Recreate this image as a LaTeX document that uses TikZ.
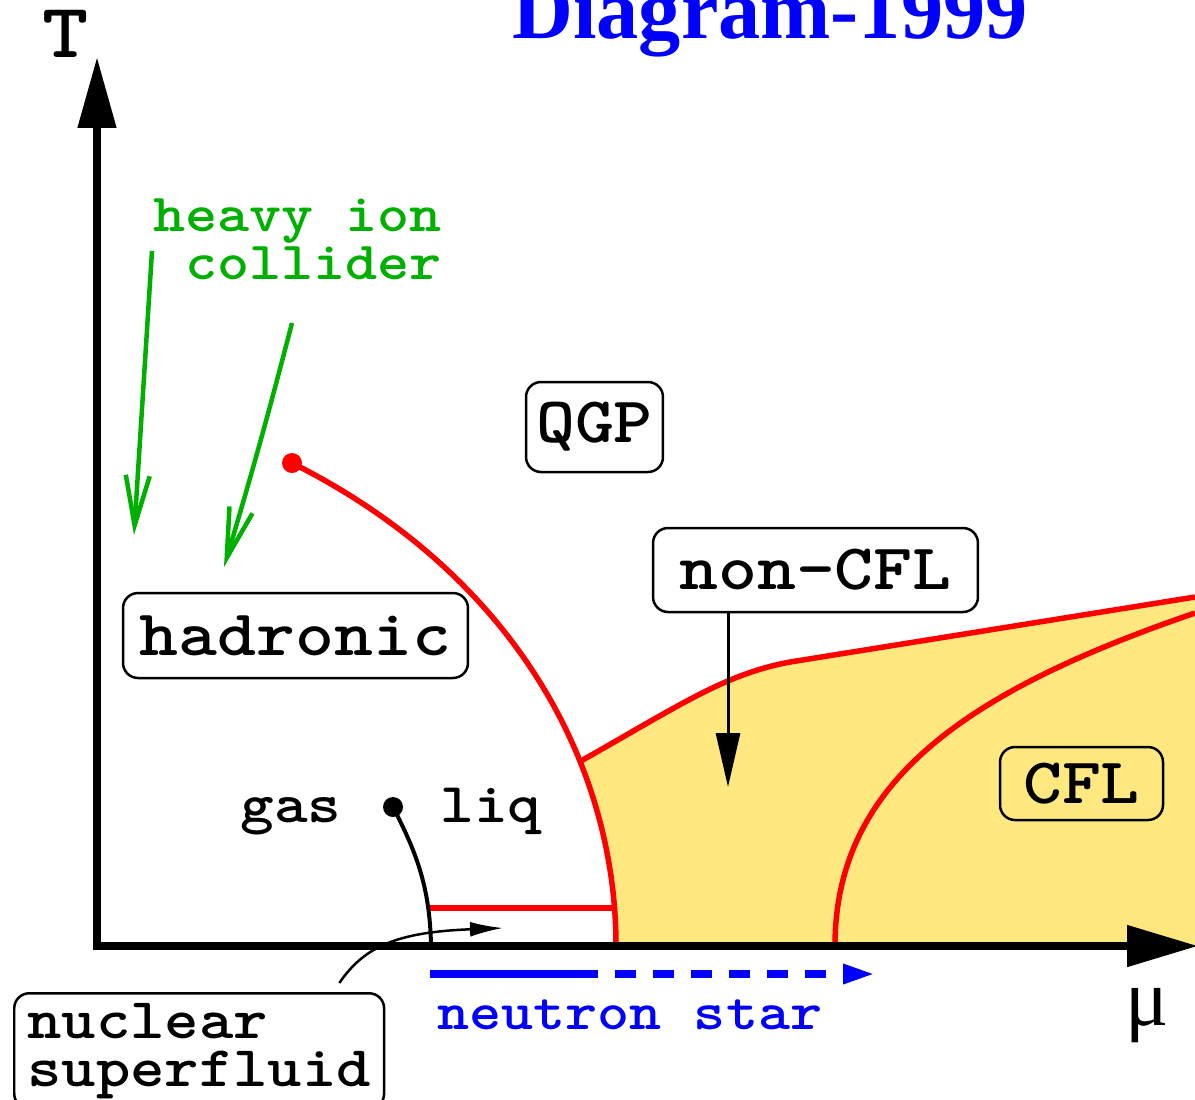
\documentclass[tikz,border=0pt]{standalone}
\usepackage{fontspec}
\usetikzlibrary{arrows.meta, positioning, calc}
\newfontfamily\diagtt{lmmonolt10-bold.otf}[FakeStretch=1.14]
\newfontfamily\titlefont{Liberation Serif}
\definecolor{cflyellow}{RGB}{255,232,128}
\definecolor{hicgreen}{RGB}{0,176,0}

\begin{document}
\begin{tikzpicture}[
    x=0.02cm, y=-0.02cm,
    phasebox/.style={draw, rounded corners=0.3cm, line width=0.05cm, inner sep=0pt, align=center, font=\diagtt\fontsize{37pt}{37pt}\selectfont},
    axisline/.style={line width=0.16cm, line join=miter},
    redline/.style={red, line width=0.11cm},
    hicarrow/.style={hicgreen, line width=0.09cm, -{Straight Barb[length=1cm, width=0.48cm]}},
    lab/.style={inner sep=0pt, font=\diagtt\fontsize{32pt}{32pt}\selectfont}
]
    \useasboundingbox (0,0) rectangle (1195,1099);

    % Title
    \node[anchor=base, text=blue, font=\titlefont\bfseries\fontsize{48pt}{48pt}\selectfont] (title) at (770,38) {Diagram-1999};

    % Phase boundaries
    \coordinate (cep) at (292,463);
    \coordinate (chi) at (616,946);
    \coordinate (cflA) at (835,946);
    \coordinate (edgeU) at (1195,597);
    \coordinate (edgeC) at (1195,613);
    \path (cep) .. controls (510,572) and (616,760) .. (chi) coordinate[pos=0.665] (trip);

    % Colour superconducting region
    \begin{scope}
        \clip ($(trip)+(-30,16)$) -- (trip) .. controls (680,705) and (725,674) .. (790,662) -- (edgeU) -- (1195,946) -- (540,946) -- cycle;
        \fill[cflyellow] (cep) .. controls (510,572) and (616,760) .. (chi) -- (1195,946) -- (1195,300) -- cycle;
    \end{scope}

    \draw[redline] (cep) .. controls (510,572) and (616,760) .. (chi);
    \draw[redline] (trip) .. controls (680,705) and (725,674) .. (790,662) -- (edgeU);
    \draw[redline] (cflA) .. controls (835,780) and (970,690) .. (edgeC);
    \fill[red] (cep) circle[radius=10];

    % Nuclear matter
    \coordinate (lgcep) at (393,807);
    \coordinate (lgend) at (431,946);
    \coordinate (nucL) at (429,908);
    \coordinate (nucR) at (613,908);
    \draw[redline] (nucL) -- (nucR);
    \draw[line width=0.08cm] (lgcep) .. controls (415,850) and (430,885) .. (lgend);
    \fill (lgcep) circle[radius=10];

    % Axes
    \coordinate (origin) at (97,946);
    \coordinate (tmax) at (97,57);
    \coordinate (mumax) at (1198,946);
    \draw[axisline, {Triangle[length=1.42cm, width=0.74cm]}-{Triangle[length=1.42cm, width=0.8cm]}] (tmax) -- (origin) -- (mumax);
    \node[anchor=base, inner sep=0pt, font=\diagtt\fontsize{44pt}{44pt}\selectfont] (tlabel) at (66,57) {T};
    \node[anchor=base, inner sep=0pt, font=\titlefont\fontsize{46pt}{46pt}\selectfont] (mulabel) at (1147,1025) {μ};

    % Phases
    \node[phasebox, minimum width=6.9cm, minimum height=1.7cm] (hadronic) at (295.5,635.5) {hadronic};
    \node[phasebox, minimum width=2.74cm, minimum height=1.8cm] (qgp) at (594.5,427) {QGP};
    \node[phasebox, minimum width=6.5cm, minimum height=1.68cm] (noncfl) at (815.5,570) {non-CFL};
    \node[phasebox, minimum width=3.26cm, minimum height=1.46cm] (cfl) at (1081.5,783.5) {CFL};
    \node[phasebox, anchor=north west, align=left, inner xsep=0.26cm, inner ysep=0.2cm, font=\diagtt\fontsize{32.7pt}{27.3pt}\selectfont] (nsf) at (13,992) {nuclear\\superfluid};

    \node[lab, anchor=base west] (gas) at (240,822) {gas};
    \node[lab, anchor=base west] (liq) at (440,822) {liq};

    % Pointers
    \coordinate (ncfltip) at (728,787);
    \draw[line width=0.06cm, -{Triangle[length=1.08cm, width=0.48cm]}] (noncfl.south -| ncfltip) -- (ncfltip);
    \coordinate (nsftip) at (503,928);
    \draw[line width=0.05cm, -{Latex[length=0.66cm, width=0.3cm]}] ($(nsf.north east)+(-46,-9)$) .. controls (365,945) and (400,932) .. (nsftip);

    % Heavy ion collider
    \node[lab, anchor=north east, align=right, text=hicgreen, font=\diagtt\fontsize{30.5pt}{27.3pt}\selectfont] (hic) at (442,198) {heavy ion\\collider};
    \coordinate (hicA) at (152,251);
    \coordinate (hicAtip) at (134,535);
    \coordinate (hicB) at (292,323);
    \coordinate (hicBtip) at (224,567);
    \draw[hicarrow] (hicA) -- (hicAtip);
    \draw[hicarrow] (hicB) to[bend left=1] (hicBtip);

    % Neutron star
    \coordinate (nsA) at (430,974);
    \coordinate (nsB) at (598,974);
    \coordinate (nsC) at (876,974);
    \draw[blue, line width=0.166cm] (nsA) -- (nsB);
    \draw[blue, line width=0.166cm, dash pattern=on 0.42cm off 0.34cm, dash phase=0.42cm, -{Triangle[length=0.66cm, width=0.36cm]}] (nsB) -- (nsC);
    \node[lab, anchor=base west, text=blue, font=\diagtt\fontsize{30.5pt}{30pt}\selectfont] (nstar) at (437,1029) {neutron star};
\end{tikzpicture}
\end{document}
